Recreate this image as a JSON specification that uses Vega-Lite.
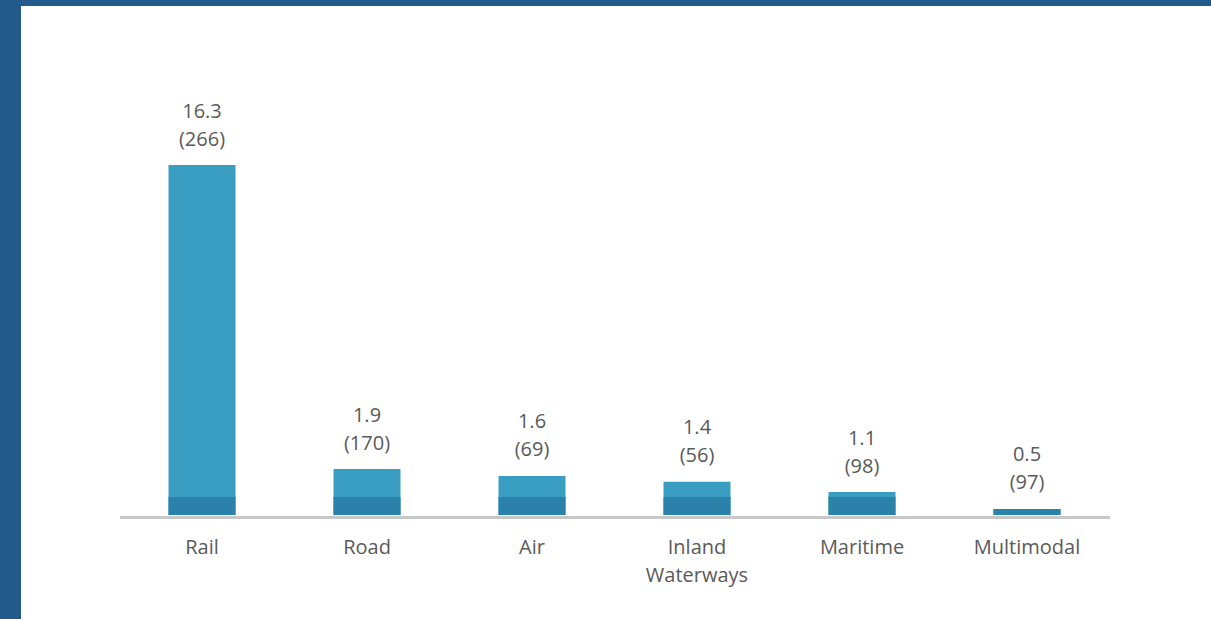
{
  "$schema": "https://vega.github.io/schema/vega-lite/v6.json",
  "width": 1190,
  "height": 613,
  "autosize": {"type": "none"},
  "padding": {"left": 21, "top": 6, "right": 0, "bottom": 0},
  "background": "#215a8b",
  "config": {"view": {"fill": "#ffffff", "stroke": null}},
  "data": {
    "values": [
      {"mode": "Rail", "value": "16.3", "count": "(266)", "bar": 16.3, "base": 0.84},
      {"mode": "Road", "value": "1.9", "count": "(170)", "bar": 2.14, "base": 0.84},
      {"mode": "Air", "value": "1.6", "count": "(69)", "bar": 1.82, "base": 0.84},
      {"mode": "Inland Waterways", "value": "1.4", "count": "(56)", "bar": 1.55, "base": 0.84},
      {"mode": "Maritime", "value": "1.1", "count": "(98)", "bar": 1.07, "base": 0.84},
      {"mode": "Multimodal", "value": "0.5", "count": "(97)", "bar": 0.28, "base": 0.28}
    ]
  },
  "encoding": {
    "x": {
      "field": "mode",
      "type": "nominal",
      "sort": null,
      "scale": {"range": [98.5, 1088.5], "paddingInner": 0.594, "paddingOuter": 0.297},
      "axis": {
        "title": null,
        "offset": -102,
        "ticks": false,
        "tickSize": 0,
        "labelAngle": 0,
        "labelPadding": 36,
        "labelBaseline": "alphabetic",
        "labelFont": "Open Sans",
        "labelFontSize": 20,
        "labelColor": "#5a5a5a",
        "labelLineHeight": 28,
        "labelExpr": "datum.value == 'Inland Waterways' ? ['Inland', 'Waterways'] : datum.value",
        "domainColor": "#c8c8c8",
        "domainWidth": 3
      }
    }
  },
  "layer": [
    {
      "mark": {"type": "bar", "color": "#3a9dc2"},
      "encoding": {
        "y": {"field": "bar", "type": "quantitative", "scale": {"domain": [-4.844, 23.71], "nice": false, "zero": false}, "axis": null}
      }
    },
    {
      "mark": {"type": "bar", "color": "#2a81a9"},
      "encoding": {
        "y": {"field": "base", "type": "quantitative", "axis": null}
      }
    },
    {
      "mark": {"type": "text", "font": "Open Sans", "fontSize": 20, "color": "#5a5a5a", "baseline": "alphabetic", "dy": -19.5},
      "encoding": {
        "y": {"field": "bar", "type": "quantitative", "axis": null},
        "text": {"field": "count", "type": "nominal"}
      }
    },
    {
      "mark": {"type": "text", "font": "Open Sans", "fontSize": 20, "color": "#5a5a5a", "baseline": "alphabetic", "dy": -47.5},
      "encoding": {
        "y": {"field": "bar", "type": "quantitative", "axis": null},
        "text": {"field": "value", "type": "nominal"}
      }
    }
  ]
}
